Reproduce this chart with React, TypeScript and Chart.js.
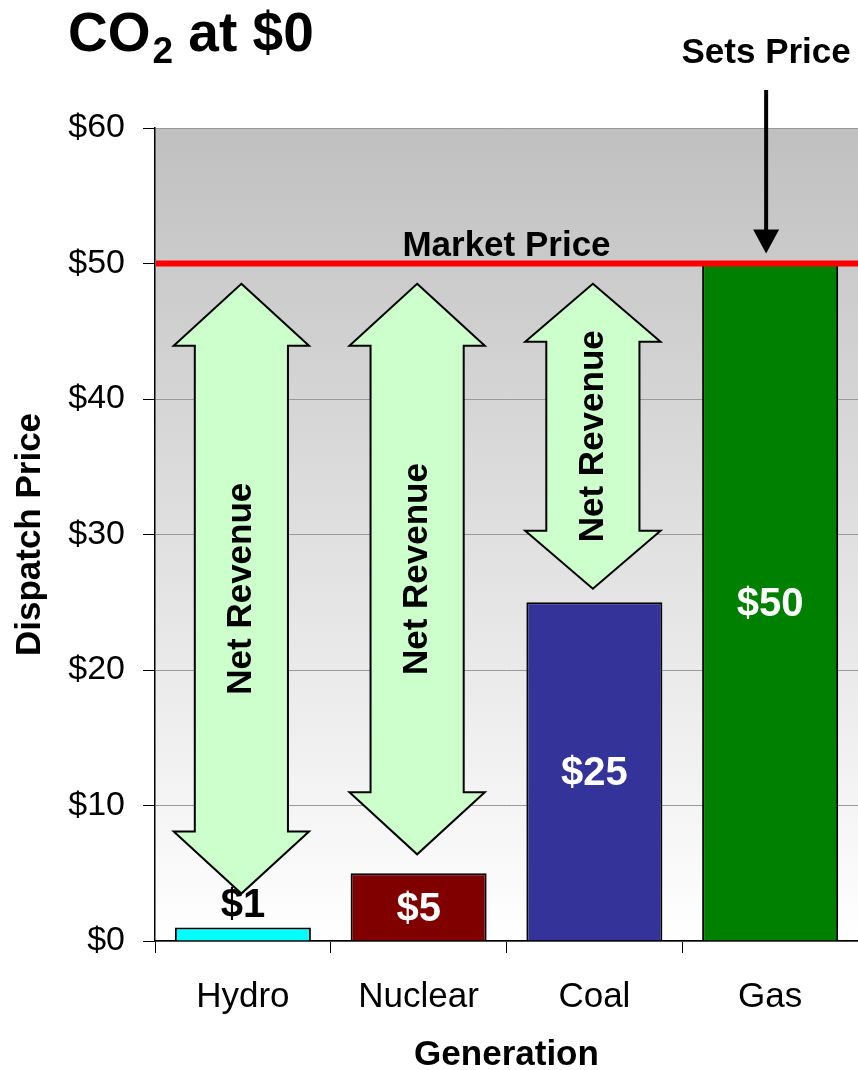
import React, { useEffect, useRef } from 'react';
import { Chart, registerables } from 'chart.js';

Chart.register(...registerables);

const FONT = '"Liberation Sans", Arial, Helvetica, sans-serif';

// ---- data ----
const categories = ['Hydro', 'Nuclear', 'Coal', 'Gas'];
const dispatchPrice = [1, 5, 25, 50];
const valueLabels = ['$1', '$5', '$25', '$50'];
const barColors = ['#00ffff', '#800000', '#333399', '#008000'];
const labelColors = ['#000000', '#ffffff', '#ffffff', '#ffffff'];
const marketPrice = 50;
const yMin = 0;
const yMax = 60;
const yStep = 10;
// Net revenue arrows (for Hydro, Nuclear, Coal): top and bottom tip values
const arrowTop = [48.5, 48.5, 48.5];
const arrowBottom = [3.5, 6.4, 26];
const arrowText = 'Net Revenue';

const overlayPlugin = {
  id: 'overlay',
  beforeDraw(chart: any) {
    const { ctx, chartArea } = chart;
    const { left, right, top, bottom } = chartArea;
    const g = ctx.createLinearGradient(0, top, 0, bottom);
    g.addColorStop(0, '#c0c0c0');
    g.addColorStop(1, '#ffffff');
    ctx.save();
    ctx.fillStyle = g;
    ctx.fillRect(left, top, right - left, bottom - top);
    ctx.restore();
  },
  afterDatasetsDraw(chart: any) {
    const { ctx, chartArea, scales } = chart;
    const xs = scales.x;
    const ys = scales.y;
    const catW = (chartArea.right - chartArea.left) / categories.length;
    const meta = chart.getDatasetMeta(0);

    ctx.save();
    // market price line
    const yM = ys.getPixelForValue(marketPrice);
    ctx.strokeStyle = '#ff0000';
    ctx.lineWidth = 6;
    ctx.beginPath();
    ctx.moveTo(chartArea.left + 1, yM);
    ctx.lineTo(chartArea.right, yM);
    ctx.stroke();

    ctx.fillStyle = '#000';
    ctx.font = `bold 35px ${FONT}`;
    ctx.textAlign = 'center';
    ctx.textBaseline = 'alphabetic';
    ctx.fillText('Market Price', (chartArea.left + chartArea.right) / 2, yM - 8);

    // double arrows
    arrowTop.forEach((tv, i) => {
      const cx = xs.getPixelForValue(i) - 1.5;
      const yT = ys.getPixelForValue(tv);
      const yB = ys.getPixelForValue(arrowBottom[i]);
      const headW = catW * 0.77;
      const shaftW = catW * 0.53;
      const headL = Math.min(62, (yB - yT) * 0.19);
      ctx.beginPath();
      ctx.moveTo(cx, yT);
      ctx.lineTo(cx + headW / 2, yT + headL);
      ctx.lineTo(cx + shaftW / 2, yT + headL);
      ctx.lineTo(cx + shaftW / 2, yB - headL);
      ctx.lineTo(cx + headW / 2, yB - headL);
      ctx.lineTo(cx, yB);
      ctx.lineTo(cx - headW / 2, yB - headL);
      ctx.lineTo(cx - shaftW / 2, yB - headL);
      ctx.lineTo(cx - shaftW / 2, yT + headL);
      ctx.lineTo(cx - headW / 2, yT + headL);
      ctx.closePath();
      ctx.fillStyle = '#ccffcc';
      ctx.fill();
      ctx.strokeStyle = '#000';
      ctx.lineWidth = 2;
      ctx.lineJoin = 'miter';
      ctx.stroke();

      ctx.save();
      ctx.translate(cx, (yT + yB) / 2);
      ctx.rotate(-Math.PI / 2);
      ctx.fillStyle = '#000';
      ctx.font = `bold 35px ${FONT}`;
      ctx.textAlign = 'center';
      ctx.textBaseline = 'middle';
      ctx.fillText(arrowText, 0, 0);
      ctx.restore();
    });

    // bar value labels
    ctx.font = `bold 40px ${FONT}`;
    ctx.textAlign = 'center';
    ctx.textBaseline = 'middle';
    meta.data.forEach((bar: any, i: number) => {
      const h = bar.base - bar.y;
      ctx.fillStyle = labelColors[i];
      let y = (bar.y + bar.base) / 2;
      if (h < 45) y = bar.y - 24;
      ctx.fillText(valueLabels[i], bar.x, y + 3);
    });

    // "Sets Price" pointer
    const gasX = xs.getPixelForValue(categories.length - 1) - 4;
    const tipY = yM - 10;
    ctx.fillStyle = '#000';
    ctx.strokeStyle = '#000';
    ctx.lineWidth = 4;
    ctx.beginPath();
    ctx.moveTo(gasX, 90);
    ctx.lineTo(gasX, tipY - 20);
    ctx.stroke();
    ctx.beginPath();
    ctx.moveTo(gasX, tipY);
    ctx.lineTo(gasX - 13, tipY - 24);
    ctx.lineTo(gasX + 13, tipY - 24);
    ctx.closePath();
    ctx.fill();
    ctx.font = `bold 35px ${FONT}`;
    ctx.textAlign = 'center';
    ctx.textBaseline = 'alphabetic';
    ctx.fillText('Sets Price', gasX, 63);

    // title: CO2 at $0
    ctx.textAlign = 'left';
    ctx.textBaseline = 'alphabetic';
    let x = 68;
    ctx.font = `bold 55px ${FONT}`;
    ctx.fillText('CO', x, 51);
    x += ctx.measureText('CO').width + 2;
    ctx.font = `bold 37px ${FONT}`;
    ctx.fillText('2', x, 63);
    x += ctx.measureText('2').width;
    ctx.font = `bold 55px ${FONT}`;
    ctx.fillText(' at $0', x, 51);

    ctx.restore();
  },
};

export default function App() {
  const ref = useRef<HTMLCanvasElement | null>(null);
  useEffect(() => {
    if (!ref.current) return;
    const chart = new Chart(ref.current, {
      type: 'bar',
      data: {
        labels: categories,
        datasets: [
          {
            data: dispatchPrice,
            backgroundColor: barColors,
            borderColor: '#000',
            borderWidth: 2,
            categoryPercentage: 1,
            barPercentage: 0.774,
          },
        ],
      },
      options: {
        responsive: false,
        animation: false,
        devicePixelRatio: 1,
        layout: { padding: { top: 128, right: 0, bottom: 0, left: 0 } },
        plugins: {
          legend: { display: false },
          tooltip: { enabled: false },
          title: { display: false },
        },
        scales: {
          x: {
            offset: true,
            grid: {
              offset: true,
              drawOnChartArea: false,
              drawTicks: true,
              tickLength: 12,
              tickColor: '#000',
              color: '#000',
            },
            border: { color: '#000', width: 1.5 },
            ticks: { color: '#000', font: { family: FONT, size: 35 }, padding: 23 },
            title: {
              display: true,
              text: 'Generation',
              color: '#000',
              font: { family: FONT, size: 35, weight: 'bold', lineHeight: 0.85 },
              padding: 0,
            },
            afterFit: (s: any) => {
              s.height = 129;
            },
          },
          y: {
            min: yMin,
            max: yMax,
            ticks: {
              stepSize: yStep,
              color: '#000',
              font: { family: FONT, size: 34 },
              padding: 18,
              callback: (v: any) => '$' + v,
            },
            grid: { color: '#999999', tickColor: '#000', tickLength: 12, lineWidth: 1 },
            border: { color: '#000', width: 1.5 },
            title: {
              display: true,
              text: 'Dispatch Price',
              color: '#000',
              font: { family: FONT, size: 35, weight: 'bold', lineHeight: 1 },
              padding: { top: 13, bottom: 0 },
            },
            afterFit: (s: any) => {
              s.width = 155;
            },
          },
        },
      } as any,
      plugins: [overlayPlugin],
    });
    return () => chart.destroy();
  }, []);

  return (
    <div style={{ position: 'absolute', left: 0, top: 0, width: 858, height: 1070, background: '#fff' }}>
      <canvas ref={ref} width={858} height={1070} style={{ display: 'block' }} />
    </div>
  );
}
